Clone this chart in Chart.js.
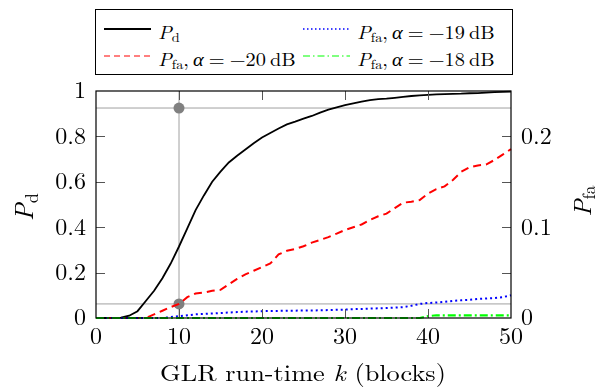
<!DOCTYPE html>
<html>
<head>
<meta charset="utf-8">
<script src="https://cdn.jsdelivr.net/npm/chart.js@4.4.1/dist/chart.umd.min.js"></script>
<style>
  body { margin: 0; background: #fff; }
  #wrap { position: relative; width: 597px; height: 387px; overflow: hidden; font-family: "Latin Modern Roman", "Liberation Serif", serif; color: #000; }
  #chart { position: absolute; left: 0; top: 0; }
  #legend { position: absolute; left: 95px; top: 9px; width: 416px; height: 64px; border: 1px solid #000; background: #fff; font-size: 18.5px; }
  .item { position: absolute; white-space: nowrap; line-height: 1; }
  .item svg { position: absolute; left: 0; top: 3px; }
  .item span { position: absolute; left: 54px; top: 0; transform: scaleX(1.1); transform-origin: 0 0; }
  sub { font-size: 0.7em; vertical-align: -0.25em; font-style: normal; line-height: 0; }
  .rot { position: absolute; width: 100px; height: 30px; line-height: 30px; text-align: center; transform: rotate(-90deg); font-size: 26px; white-space: nowrap; }
  #xtitle { position: absolute; left: 303px; top: 372px; transform: translate(-50%, -50%) scaleX(1.12); font-size: 23.5px; white-space: nowrap; line-height: 1; }
</style>
</head>
<body>
<div id="wrap">
  <canvas id="chart" width="597" height="387"></canvas>
  <div id="legend">
    <div class="item" style="left:8px;top:12px;">
      <svg width="47" height="8"><line x1="0" y1="4" x2="47" y2="4" stroke="#000" stroke-width="2"/></svg>
      <span><i>P</i><sub>d</sub></span>
    </div>
    <div class="item" style="left:207px;top:12px;">
      <svg width="47" height="8"><line x1="0" y1="4" x2="47" y2="4" stroke="#00f" stroke-width="1.5" stroke-dasharray="1.5 2.5"/></svg>
      <span><i>P</i><sub>fa</sub>,&#8201;<i>α</i>&#8197;=&#8197;−19&#8201;dB</span>
    </div>
    <div class="item" style="left:8px;top:39px;">
      <svg width="47" height="8"><line x1="0" y1="4" x2="47" y2="4" stroke="#f00" stroke-width="1.2" stroke-dasharray="6 4"/></svg>
      <span><i>P</i><sub>fa</sub>,&#8201;<i>α</i>&#8197;=&#8197;−20&#8201;dB</span>
    </div>
    <div class="item" style="left:207px;top:39px;">
      <svg width="47" height="8"><line x1="0" y1="4" x2="47" y2="4" stroke="#0f0" stroke-width="1.2" stroke-dasharray="7 3 1.5 3"/></svg>
      <span><i>P</i><sub>fa</sub>,&#8201;<i>α</i>&#8197;=&#8197;−18&#8201;dB</span>
    </div>
  </div>
  <div class="rot" style="left:-27px;top:192px;"><i>P</i><sub>d</sub></div>
  <div class="rot" style="left:531px;top:186px;font-size:25px;"><i>P</i><sub>fa</sub></div>
  <div id="xtitle">GLR run-time <i>k</i> (blocks)</div>
</div>
<script>
// run-time k in blocks
const k = [0, 1, 2, 3, 4, 5, 6, 7, 8, 9, 10, 11, 12, 13, 14, 15, 16, 17, 18, 19, 20,
  21, 22, 23, 24, 25, 26, 27, 28, 29, 30, 31, 32, 33, 34, 35, 36, 37, 38, 39, 40,
  41, 42, 43, 44, 45, 46, 47, 48, 49, 50];

// detection probability (left axis)
const pd = [0, 0, 0, 0.002, 0.01, 0.03, 0.075, 0.12, 0.175, 0.24, 0.315,
  0.395, 0.475, 0.54, 0.6, 0.645, 0.685, 0.715, 0.742, 0.77, 0.795,
  0.815, 0.835, 0.853, 0.865, 0.878, 0.89, 0.905, 0.918, 0.928, 0.938,
  0.946, 0.953, 0.96, 0.964, 0.966, 0.97, 0.974, 0.978, 0.981, 0.983,
  0.985, 0.986, 0.987, 0.988, 0.99, 0.991, 0.993, 0.995, 0.996, 0.997];

// false alarm probability (right axis)
const pfa20 = [0, 0, 0, 0, 0, 0, 0, 0.004, 0.008, 0.012, 0.0155,
  0.023, 0.027, 0.028, 0.03, 0.031, 0.037, 0.043, 0.048, 0.052, 0.056,
  0.06, 0.07, 0.074, 0.076, 0.079, 0.083, 0.086, 0.089, 0.093, 0.097,
  0.1, 0.103, 0.108, 0.112, 0.115, 0.121, 0.127, 0.128, 0.13, 0.137,
  0.142, 0.145, 0.152, 0.161, 0.166, 0.168, 0.169, 0.174, 0.18, 0.186];

const pfa19 = [0, 0, 0, 0, 0, 0, 0, 0, 0, 0.001, 0.002,
  0.003, 0.004, 0.0045, 0.005, 0.0055, 0.006, 0.0065, 0.007, 0.0072, 0.0075,
  0.0077, 0.0078, 0.008, 0.0081, 0.0082, 0.0083, 0.0085, 0.0087, 0.009, 0.0093,
  0.0097, 0.01, 0.0103, 0.0107, 0.011, 0.0115, 0.012, 0.0135, 0.0155, 0.0165,
  0.017, 0.0178, 0.0188, 0.0195, 0.02, 0.021, 0.0215, 0.022, 0.023, 0.025];

const pfa18 = [0, 0, 0, 0, 0, 0, 0, 0, 0, 0, 0,
  0, 0, 0, 0, 0, 0, 0, 0, 0, 0,
  0, 0, 0, 0, 0, 0, 0, 0, 0, 0,
  0, 0, 0, 0, 0, 0, 0, 0, 0, 0.002,
  0.003, 0.003, 0.003, 0.003, 0.003, 0.003, 0.003, 0.003, 0.003, 0.003];

// operating point marked at k = 10
const markK = 10;
const markPd = 0.925;
const markPfa = 0.0155;

const xTicks = [0, 10, 20, 30, 40, 50];
const yTicks = [0, 0.2, 0.4, 0.6, 0.8, 1];
const y2Ticks = [0, 0.1, 0.2];

function pts(ys) {
  return k.map((x, i) => ({ x: x, y: ys[i] }));
}

const font = { family: '"Latin Modern Roman", "Liberation Serif", serif', size: 24 };

// frame + inward ticks like the original
const frameTicks = {
  id: 'frameTicks',
  afterDatasetsDraw(chart) {
    const c = chart.ctx;
    const a = chart.chartArea;
    const sx = chart.scales.x, sy = chart.scales.y;
    const len = 9;
    c.save();
    c.strokeStyle = '#555';
    c.lineWidth = 1;
    c.beginPath();
    xTicks.slice(1, -1).forEach(v => {
      const px = Math.round(sx.getPixelForValue(v)) + 0.5;
      c.moveTo(px, a.bottom); c.lineTo(px, a.bottom - len);
      c.moveTo(px, a.top); c.lineTo(px, a.top + len);
    });
    yTicks.slice(1, -1).forEach(v => {
      const py = Math.round(sy.getPixelForValue(v)) + 0.5;
      c.moveTo(a.left, py); c.lineTo(a.left + len, py);
      c.moveTo(a.right, py); c.lineTo(a.right - len, py);
    });
    c.stroke();
    c.strokeStyle = '#000';
    c.lineWidth = 1.2;
    c.strokeRect(a.left, a.top, a.right - a.left, a.bottom - a.top);
    c.restore();
  }
};

function drawChart() {
  new Chart(document.getElementById('chart'), {
    type: 'line',
    data: {
      datasets: [
        { label: 'Pfa -18 dB', data: pts(pfa18), yAxisID: 'y2', borderColor: '#00ff00', borderWidth: 2.2,
          borderDash: [8, 3, 2, 3], pointRadius: 0, order: 0 },
        { label: 'Pfa -19 dB', data: pts(pfa19), yAxisID: 'y2', borderColor: '#0000ff', borderWidth: 2,
          borderDash: [2, 3], pointRadius: 0, order: 1 },
        { label: 'Pfa -20 dB', data: pts(pfa20), yAxisID: 'y2', borderColor: '#ff0000', borderWidth: 2,
          borderDash: [8, 5], pointRadius: 0, order: 2 },
        { label: 'Pd', data: pts(pd), yAxisID: 'y', borderColor: '#000000', borderWidth: 1.8,
          pointRadius: 0, order: 3 },
        { label: 'mark pd', data: [{ x: 0, y: markPd }, { x: 50, y: markPd }], yAxisID: 'y',
          borderColor: '#a0a0a0', borderWidth: 1, pointRadius: 0, order: 5 },
        { label: 'mark pfa', data: [{ x: 0, y: markPfa }, { x: 50, y: markPfa }], yAxisID: 'y2',
          borderColor: '#a0a0a0', borderWidth: 1, pointRadius: 0, order: 5 },
        { label: 'mark k', data: [{ x: markK, y: 0 }, { x: markK, y: 1 }], yAxisID: 'y',
          borderColor: '#a0a0a0', borderWidth: 1, pointRadius: 0, order: 5 },
        { label: 'dot pd', data: [{ x: markK, y: markPd }], yAxisID: 'y', showLine: false,
          pointRadius: 5.5, pointBackgroundColor: '#808080', pointBorderWidth: 0, order: 4 },
        { label: 'dot pfa', data: [{ x: markK, y: markPfa }], yAxisID: 'y2', showLine: false,
          pointRadius: 5.5, pointBackgroundColor: '#808080', pointBorderWidth: 0, order: 4 }
      ]
    },
    options: {
      responsive: false,
      devicePixelRatio: 1,
      animation: false,
      layout: { padding: { top: 91, left: 0, right: 0, bottom: 0 } },
      plugins: { legend: { display: false }, tooltip: { enabled: false } },
      elements: { line: { tension: 0, fill: false } },
      datasets: { line: { clip: 6 } },
      scales: {
        x: {
          type: 'linear', min: 0, max: 50,
          grid: { display: false, drawTicks: false }, border: { display: false },
          afterBuildTicks: s => { s.ticks = xTicks.map(v => ({ value: v })); },
          ticks: { font: font, color: '#000', padding: 4, maxRotation: 0 },
          afterFit: s => { s.height = 69; }
        },
        y: {
          position: 'left', min: 0, max: 1,
          grid: { display: false, drawTicks: false }, border: { display: false },
          afterBuildTicks: s => { s.ticks = yTicks.map(v => ({ value: v })); },
          ticks: { font: font, color: '#000', padding: 10, callback: v => String(v) },
          afterFit: s => { s.width = 96; }
        },
        y2: {
          position: 'right', min: 0, max: 0.25,
          grid: { display: false, drawTicks: false }, border: { display: false },
          afterBuildTicks: s => { s.ticks = y2Ticks.map(v => ({ value: v })); },
          ticks: { font: font, color: '#000', padding: 10, callback: v => String(v) },
          afterFit: s => { s.width = 86; }
        }
      }
    },
    plugins: [frameTicks]
  });
}

document.fonts.load('24px "Latin Modern Roman"').then(drawChart, drawChart);
</script>
</body>
</html>
